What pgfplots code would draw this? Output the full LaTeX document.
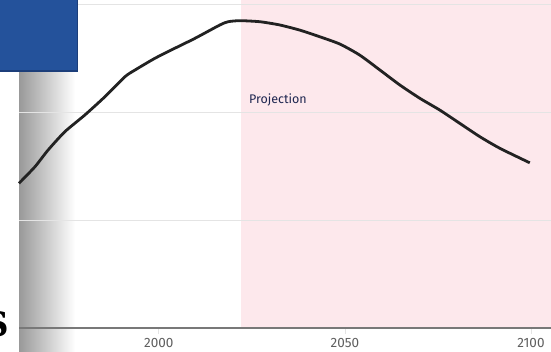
\documentclass[border=0pt]{standalone}
\usepackage{fontspec}
\setmainfont{Fira Sans}
\newfontfamily\logofont{DejaVu Serif}
\usepackage{pgfplots}
\pgfplotsset{compat=1.18}

\definecolor{linecol}{RGB}{34,34,34}
\definecolor{projpink}{RGB}{253,232,236}
\definecolor{gridcol}{RGB}{228,228,228}
\definecolor{axiscol}{RGB}{120,120,120}
\definecolor{labelcol}{RGB}{95,95,95}
\definecolor{projtext}{RGB}{30,38,80}
\definecolor{boxblue}{RGB}{36,82,155}
\definecolor{boxedge}{RGB}{28,62,122}

\begin{document}
\begin{tikzpicture}[x=1pt,y=1pt]
\begin{axis}[
  at={(19pt,23pt)}, anchor=south west,
  scale only axis, width=532pt, height=328pt,
  xmin=1962.4, xmax=2105.4, ymin=0, ymax=1.523,
  set layers, clip=false,
  axis x line*=bottom, axis y line*=left,
  x axis line style={draw=axiscol, line width=1.5pt, -},
  y axis line style={draw=none},
  xtick={2000,2050,2100},
  xticklabel style={font=\fontsize{13.5}{14}\selectfont, text=labelcol, yshift=-1pt},
  x tick style={draw=gridcol, line width=0.8pt},
  y tick style={draw=none},
  major tick length=6pt, tick align=outside,
  /pgf/number format/1000 sep={},
  /pgf/number format/assume math mode=true,
  ytick={0.5,1,1.5}, yticklabels={},
  ymajorgrids=true,
  grid style={draw=gridcol, line width=1pt},
]
% background decorations: projection period and the soft shadow at the left
\begin{pgfonlayer}{axis background}
\fill[projpink] (axis cs:2022,0) rectangle (axis cs:2110,1.7);
\shade[left color=black!40, right color=white, shading angle=90]
  (axis cs:1962.4,-0.12) rectangle (axis cs:1977.5,1.19);
\end{pgfonlayer}

\addplot[linecol, line width=2.8pt, smooth, tension=0.4] coordinates {
  (1962.4,0.672) (1966.7,0.749) (1970.2,0.826) (1974.7,0.911)
  (1980.1,0.989) (1985.5,1.074) (1990.9,1.167) (1993.6,1.198)
  (1998.9,1.252) (2004.3,1.299) (2009.7,1.345) (2016.4,1.407)
  (2018.6,1.422) (2021.8,1.427) (2027.2,1.422) (2032.5,1.407)
  (2037.9,1.383) (2043.3,1.352) (2048.7,1.318) (2054.0,1.267)
  (2059.4,1.198) (2064.8,1.128) (2070.2,1.066) (2075.5,1.012)
  (2080.9,0.950) (2086.3,0.888) (2091.7,0.834) (2099.7,0.767)
};

\node[anchor=west, text=projtext, font=\fontsize{12.5}{13}\selectfont]
  at (axis cs:2023.3,1.058) {Projection};
\end{axis}

% header box in the top-left corner
\fill[boxedge] (0,279) rectangle (78,351);
\fill[boxblue] (0,280.5) rectangle (76.5,351);

% partially visible wordmark letter
\node[anchor=south east, inner sep=0pt, font=\logofont\bfseries\fontsize{34}{34}\selectfont]
  at (9.5,14) {S};

\pgfresetboundingbox
\useasboundingbox (0,0) rectangle (551,351);
\end{tikzpicture}
\end{document}
